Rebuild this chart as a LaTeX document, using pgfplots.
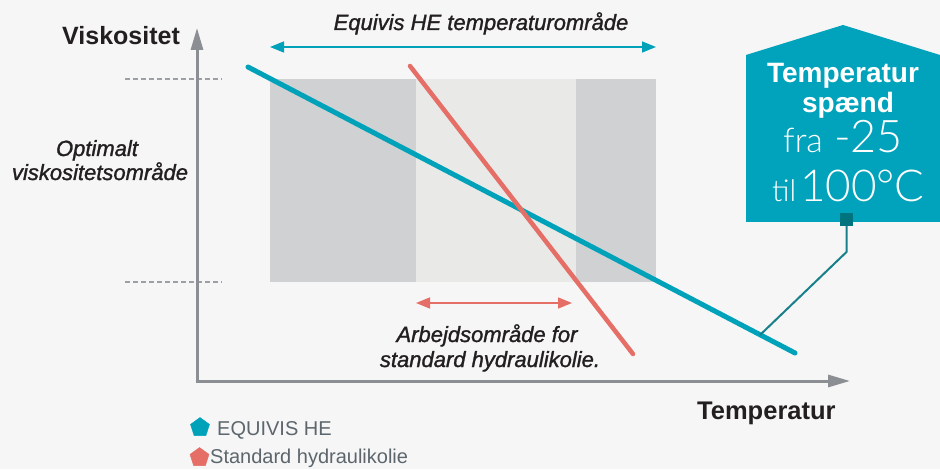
\documentclass[border=0pt]{standalone}
\usepackage{fontspec}
\setmainfont{Liberation Sans}
\newfontfamily\meditfont{Liberation Sans}[ItalicFeatures={FakeBold=1.3}]
\usepackage{pgfplots}
\pgfplotsset{compat=1.18}
\usetikzlibrary{arrows.meta}
\IfFontExistsTF{Lato Light}{\newfontfamily\lightfont{Lato Light}}{%
 \IfFontExistsTF{Fira Sans Light}{\newfontfamily\lightfont{Fira Sans Light}}{%
  \IfFontExistsTF{DejaVu Sans ExtraLight}{\newfontfamily\lightfont{DejaVu Sans ExtraLight}}{%
   \newfontfamily\lightfont{Liberation Sans}}}}
\definecolor{bg}{HTML}{F6F6F6}
\definecolor{dgray}{HTML}{D0D1D3}
\definecolor{lgray}{HTML}{E9EAE8}
\definecolor{axisgray}{HTML}{8B8E93}
\definecolor{teal1}{HTML}{00A2B9}
\definecolor{boxteal}{HTML}{00A3BB}
\definecolor{red1}{HTML}{E56E66}
\definecolor{darkteal}{HTML}{00747E}
\definecolor{leader}{HTML}{17808A}
\definecolor{txt}{HTML}{231F20}
\definecolor{legtxt}{HTML}{5C666C}
\begin{document}
\begin{tikzpicture}
\begin{axis}[width=940pt, height=469pt, scale only axis, xmin=0, xmax=940, ymin=0, ymax=469, hide axis, clip=false]
% background
\addplot[fill=bg, draw=none] coordinates {(0,0) (940,0) (940,469) (0,469)} -- cycle;
% working ranges
\addplot[fill=dgray, draw=none] coordinates {(270,187) (416,187) (416,390) (270,390)} -- cycle;
\addplot[fill=lgray, draw=none] coordinates {(416,187) (576,187) (576,390) (416,390)} -- cycle;
\addplot[fill=dgray, draw=none] coordinates {(576,187) (656,187) (656,390) (576,390)} -- cycle;
% dashed guides
\addplot[axisgray!85, line width=1.2pt, dash pattern=on 5pt off 3pt] coordinates {(125,390) (222,390)};
\addplot[axisgray!85, line width=1.2pt, dash pattern=on 5pt off 3pt] coordinates {(125,187) (222,187)};
% axes
\addplot[axisgray, line width=3pt, -{Triangle[length=22pt,width=12pt]}] coordinates {(197,86.5) (197,441)};
\addplot[axisgray, line width=3pt, -{Triangle[length=22pt,width=12pt]}] coordinates {(195.5,88) (850,88)};
% double arrows
\addplot[teal1, line width=1.5pt, {Triangle[length=14pt,width=11pt]}-{Triangle[length=14pt,width=11pt]}] coordinates {(270,422) (656,422)};
\addplot[red1, line width=1.5pt, {Triangle[length=14pt,width=11pt]}-{Triangle[length=14pt,width=11pt]}] coordinates {(416,166) (572,166)};
% data lines
\addplot[teal1, line width=5pt, line cap=round] coordinates {(248,402) (795,116)};
\addplot[red1, line width=4.5pt, line cap=round] coordinates {(410,403) (633,115)};
% callout box
\addplot[fill=boxteal, draw=none] coordinates {(746,247) (746,414) (843,444) (940,414) (940,247)} -- cycle;
\addplot[leader, line width=2pt] coordinates {(846.5,245) (846.5,217) (760,134)};
\addplot[fill=darkteal, draw=none] coordinates {(840,243) (853,243) (853,256) (840,256)} -- cycle;
% legend marks
\addplot[only marks, mark=pentagon*, mark size=10pt, teal1, mark options={draw=none, fill=teal1}] coordinates {(200,41.5)};
\addplot[only marks, mark=pentagon*, mark size=10pt, red1, mark options={draw=none, fill=red1}] coordinates {(199.5,11.5)};
% texts
\node[anchor=base west, inner sep=0, text=txt, font=\fontsize{25}{30}\selectfont\bfseries] at (axis cs:62,424) {Viskositet};
\node[anchor=base west, inner sep=0, text=txt, font=\fontsize{25.5}{30}\selectfont\bfseries] at (axis cs:697,50) {Temperatur};
\node[anchor=base, inner sep=0, text=txt, font=\meditfont\fontsize{22}{26}\selectfont\itshape] at (axis cs:481,439) {Equivis HE temperaturområde};
\node[anchor=base, inner sep=0, text=txt, font=\meditfont\fontsize{22}{26}\selectfont\itshape] at (axis cs:97,313) {Optimalt};
\node[anchor=base, inner sep=0, text=txt, font=\meditfont\fontsize{22}{26}\selectfont\itshape] at (axis cs:100,289) {viskositetsområde};
\node[anchor=base, inner sep=0, text=txt, font=\meditfont\fontsize{22}{26}\selectfont\itshape] at (axis cs:487,127) {Arbejdsområde for};
\node[anchor=base, inner sep=0, text=txt, font=\meditfont\fontsize{22}{26}\selectfont\itshape] at (axis cs:490,102) {standard hydraulikolie.};
\node[anchor=base, inner sep=0, text=white, font=\fontsize{28}{30}\selectfont\bfseries] at (axis cs:843,386) {Temperatur};
\node[anchor=base, inner sep=0, text=white, font=\fontsize{28}{30}\selectfont\bfseries] at (axis cs:848,356) {spænd};
\node[anchor=base west, inner sep=0, text=white, font=\lightfont\fontsize{34}{36}\selectfont] at (axis cs:783,316) {fra};
\node[anchor=base west, inner sep=0, text=white, font=\lightfont\fontsize{45}{46}\selectfont] at (axis cs:834,316) {-25};
\node[anchor=base west, inner sep=0, text=white, font=\lightfont\fontsize{30}{36}\selectfont] at (axis cs:772,267) {til};
\node[anchor=base west, inner sep=0, text=white, font=\lightfont\fontsize{44}{46}\selectfont] at (axis cs:800,267) {100°C};
\node[anchor=base west, inner sep=0, text=legtxt, font=\fontsize{20}{24}\selectfont] at (axis cs:217,34) {EQUIVIS HE};
\node[anchor=base west, inner sep=0, text=legtxt, font=\fontsize{20}{24}\selectfont] at (axis cs:210,6) {Standard hydraulikolie};
\end{axis}
\end{tikzpicture}
\end{document}
